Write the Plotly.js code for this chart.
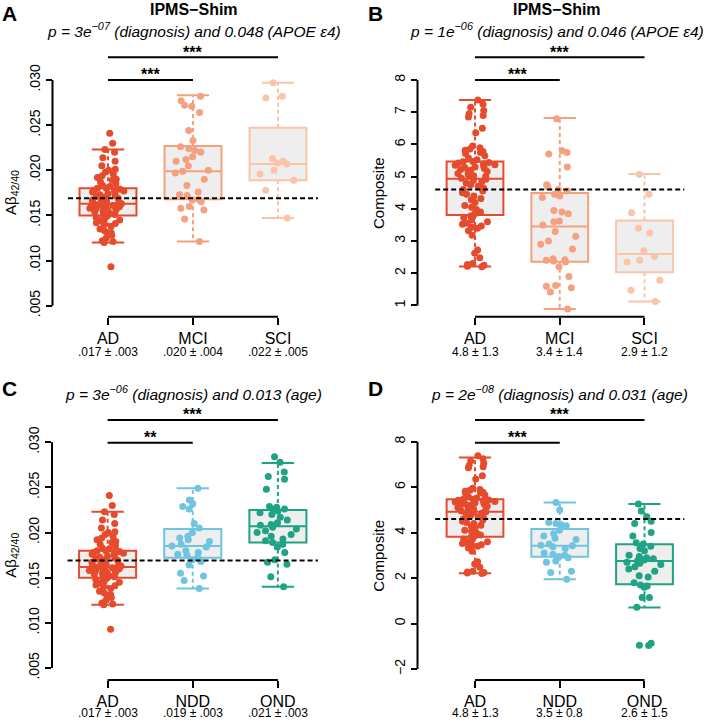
<!DOCTYPE html>
<html>
<head>
<meta charset="utf-8">
<script src="https://cdn.plot.ly/plotly-3.0.1.min.js"></script>
<style>body{margin:0;background:#fff}#plot{width:708px;height:720px}</style>
</head>
<body>
<div id="plot"></div>
<script>
// groups and colours
var groupsTop = ["AD", "MCI", "SCI"];
var groupsBottom = ["AD", "NDD", "OND"];
var colorsTop = ["#E64B2D", "#F5A07F", "#FAC4A8"];
var colorsBottom = ["#E64B2D", "#6FC4E0", "#1FA384"];

// Abeta 42/40 values per group
var abAD = [.0093, .0120, .0121, .0122, .0125, .0128, .0130, .0131, .0133, .0135, .0138, .0140, .0141, .0142, .0144, .0145, .0146, .0148, .0149,
  .0150, .0151, .0152, .0153, .0154, .0155, .0155, .0156, .0157, .0158, .0158, .0159, .0160, .0160, .0161, .0161, .0162, .0162, .0163, .0163,
  .0164, .0164, .0165, .0166, .0167, .0168, .0169, .0170, .0171, .0172, .0173, .0174, .0175, .0176, .0177, .0178, .0178, .0179, .0180, .0180,
  .0182, .0183, .0185, .0187, .0189, .0190, .0192, .0194, .0196, .0198, .0200, .0201, .0205, .0210, .0214, .0220, .0223, .0230, .0241];
var abMCI = [.0282, .0277, .0272, .0271, .0264, .0244, .0233, .0226, .0224, .0222, .0220, .0215, .0212, .0210, .0205, .0200, .0199, .0197,
  .0190, .0183, .0176, .0173, .0172, .0168, .0167, .0165, .0160, .0158, .0156, .0146, .0121];
var abSCI = [.0297, .0282, .0280, .0213, .0210, .0208, .0207, .0200, .0196, .0189, .0178, .0147];
var abNDD = [.0249, .0236, .0232, .0229, .0226, .0210, .0205, .0200, .0196, .0194, .0192, .0190, .0187, .0185, .0184, .0180, .0178,
  .0176, .0175, .0173, .0170, .0168, .0164, .0155, .0152, .0147, .0138];
var abOND = [.0284, .0278, .0267, .0262, .0259, .0248, .0229, .0228, .0226, .0225, .0224, .0222, .0220, .0217, .0214, .0211, .0209, .0208,
  .0206, .0204, .0202, .0200, .0198, .0196, .0193, .0191, .0189, .0187, .0184, .0178, .0170, .0167, .0165, .0151, .0140];

// composite values per group
var compAD = [2.20, 2.22, 2.25, 2.27, 2.30, 2.48, 2.62, 2.72, 3.18, 3.32, 3.40, 3.43, 3.47, 3.52, 3.55, 3.60, 3.65, 3.72, 3.78,
  3.85, 3.90, 3.98, 4.05, 4.10, 4.20, 4.28, 4.32, 4.40, 4.45, 4.50, 4.55, 4.60, 4.65, 4.70, 4.75, 4.80, 4.85, 4.88, 4.92,
  4.95, 5.00, 5.03, 5.06, 5.10, 5.13, 5.16, 5.20, 5.22, 5.25, 5.28, 5.30, 5.32, 5.35, 5.37, 5.40, 5.42, 5.44, 5.46, 5.47,
  5.52, 5.58, 5.65, 5.72, 5.75, 5.78, 5.82, 5.86, 5.90, 5.95, 6.36, 6.50, 6.85, 6.90, 6.95, 7.05, 7.15, 7.25, 7.38];
var compMCI = [6.80, 5.80, 5.75, 5.70, 5.30, 4.75, 4.68, 4.60, 4.55, 4.45, 4.40, 4.35, 3.95, 3.90, 3.85, 3.62, 3.60, 3.50, 3.30, 3.15,
  3.00, 2.90, 2.75, 2.45, 2.42, 2.40, 2.38, 2.35, 2.20, 1.90, 1.62, 1.60, 1.55, 1.42, 0.89];
var compSCI = [5.07, 4.45, 3.88, 3.40, 3.25, 2.70, 2.52, 2.40, 2.35, 1.78, 1.47, 1.12];
var compNDD = [5.33, 5.00, 4.45, 4.40, 4.35, 4.30, 4.10, 3.95, 3.85, 3.75, 3.70, 3.50, 3.45, 3.42, 3.38, 3.30, 3.10, 3.05, 3.00,
  2.95, 2.90, 2.75, 2.70, 2.30, 2.25, 1.95];
var compOND = [5.26, 4.95, 4.70, 4.50, 4.40, 4.00, 3.85, 3.55, 3.50, 3.40, 3.30, 3.20, 3.00, 2.95, 2.90, 2.85, 2.80, 2.75, 2.70,
  2.65, 2.60, 2.50, 2.40, 2.30, 2.10, 2.05, 1.80, 1.70, 1.65, 1.60, 1.15, 1.15, 0.72, -0.87, -0.95, -0.97];

// box statistics
var aQ1 = [.0150, .0168, .0189], aMed = [.0163, .0199, .0207], aQ3 = [.0180, .0227, .0247], aLo = [.0120, .0121, .0147], aHi = [.0223, .0283, .0297];
var bQ1 = [3.81, 2.36, 2.03], bMed = [4.93, 3.45, 2.60], bQ3 = [5.47, 4.49, 3.64], bLo = [2.21, 0.89, 1.12], bHi = [7.38, 6.82, 5.08];
var cQ1 = [.0150, .0172, .0189], cMed = [.0162, .0185, .0207], cQ3 = [.0180, .0204, .0225], cLo = [.0120, .0138, .0140], cHi = [.0223, .0249, .0277];
var dQ1 = [3.82, 2.94, 1.73], dMed = [4.92, 3.42, 2.75], dQ3 = [5.47, 4.16, 3.49], dLo = [2.21, 1.95, 0.71], dHi = [7.31, 5.33, 5.26];

// thresholds (dashed lines)
var thrAbeta = 0.0169, thrComp = 4.6;

// mean +- sd under each group
var meanA = [".017 ± .003", ".020 ± .004", ".022 ± .005"];
var meanB = ["4.8 ± 1.3", "3.4 ± 1.4", "2.9 ± 1.2"];
var meanC = [".017 ± .003", ".019 ± .003", ".021 ± .003"];
var meanD = ["4.8 ± 1.3", "3.5 ± 0.8", "2.6 ± 1.5"];

// y tick labels
var abTicks = [.005, .010, .015, .020, .025, .030];
var abTickText = [".005", ".010", ".015", ".020", ".025", ".030"];
var compTicksB = [1, 2, 3, 4, 5, 6, 7, 8];
var compTicksD = [-2, 0, 2, 4, 6, 8];
var compTickTextD = ["\u22122", "0", "2", "4", "6", "8"];

var W = 708, H = 720;
function px(x) { return x / W; }
function py(y) { return 1 - y / H; }

var FONT = "Liberation Sans, Arial, Helvetica, sans-serif";

var panels = [
  {letter: "A", xa: "x", ya: "y", xd: [52.5, 330], yd: [30, 316.7], xr: [0.347, 3.612], yr: [0.003781, 0.035538],
   groups: groupsTop, colors: colorsTop, pts: [abAD, abMCI, abSCI], q1: aQ1, med: aMed, q3: aQ3, lo: aLo, hi: aHi,
   thr: thrAbeta, yt: abTicks, ytt: abTickText, ytitle: "A\u03b2<sub>42/40</sub>", means: meanA, stars: ["***", "***"],
   head: "IPMS\u2212Shim", ptext: "<i>p = 3e<sup>\u221207</sup> (diagnosis) and 0.048 (APOE \u03b54)</i>", row: 0, tx: 193.5, lx: 0, ax: 12},
  {letter: "B", xa: "x2", ya: "y2", xd: [417.5, 700], yd: [30, 316.7], xr: [0.3215, 3.655], yr: [0.651, 9.552],
   groups: groupsTop, colors: colorsTop, pts: [compAD, compMCI, compSCI], q1: bQ1, med: bMed, q3: bQ3, lo: bLo, hi: bHi,
   thr: thrComp, yt: compTicksB, ytt: compTicksB.map(String), ytitle: "Composite", means: meanB, stars: ["***", "***"],
   head: "IPMS\u2212Shim", ptext: "<i>p = 1e<sup>\u221206</sup> (diagnosis) and 0.046 (APOE \u03b54)</i>", row: 0, tx: 557, lx: 366, ax: 379},
  {letter: "C", xa: "x3", ya: "y3", xd: [52, 330], yd: [400, 680], xr: [0.347, 3.612], yr: [0.003671, 0.034685],
   groups: groupsBottom, colors: colorsBottom, pts: [abAD, abNDD, abOND], q1: cQ1, med: cMed, q3: cQ3, lo: cLo, hi: cHi,
   thr: thrAbeta, yt: abTicks, ytt: abTickText, ytitle: "A\u03b2<sub>42/40</sub>", means: meanC, stars: ["**", "***"],
   head: null, ptext: "<i>p = 3e<sup>\u221206</sup> (diagnosis) and 0.013 (age)</i>", row: 1, tx: 193, lx: 0, ax: 12},
  {letter: "D", xa: "x4", ya: "y4", xd: [417.5, 700], yd: [400, 680], xr: [0.3215, 3.655], yr: [-2.484, 9.835],
   groups: groupsBottom, colors: colorsBottom, pts: [compAD, compNDD, compOND], q1: dQ1, med: dMed, q3: dQ3, lo: dLo, hi: dHi,
   thr: thrComp, yt: compTicksD, ytt: compTickTextD, ytitle: "Composite", means: meanD, stars: ["***", "***"],
   head: null, ptext: "<i>p = 2e<sup>\u221208</sup> (diagnosis) and 0.031 (age)</i>", row: 1, tx: 559, lx: 366, ax: 379}
];

var data = [];
var layout = {
  width: W, height: H,
  margin: {l: 0, r: 0, t: 0, b: 0},
  paper_bgcolor: "#ffffff", plot_bgcolor: "rgba(0,0,0,0)",
  showlegend: false, boxmode: "overlay",
  font: {family: FONT, color: "#000"},
  shapes: [], annotations: []
};

panels.forEach(function (p) {
  var dy = p.row === 0 ? 0 : 362.7;
  var xKey = p.xa === "x" ? "xaxis" : "xaxis" + p.xa.slice(1);
  var yKey = p.ya === "y" ? "yaxis" : "yaxis" + p.ya.slice(1);

  layout[xKey] = {
    domain: [px(p.xd[0]), px(p.xd[1])], range: p.xr, type: "linear", anchor: p.ya,
    tickvals: [1, 2, 3], ticktext: p.groups, ticks: "outside", ticklen: 7, tickwidth: 2, tickcolor: "#000",
    showline: false, showgrid: false, zeroline: false, tickfont: {size: 16, family: FONT}
  };
  layout[yKey] = {
    domain: [py(p.yd[1]), py(p.yd[0])], range: p.yr, type: "linear", anchor: p.xa,
    tickvals: p.yt, ticktext: p.ytt, tickangle: -90, ticks: "outside", ticklen: 6, tickwidth: 2, tickcolor: "#000",
    showline: false, showgrid: false, zeroline: false, tickfont: {size: 14, family: FONT}
  };

  // axis lines (only across tick range)
  layout.shapes.push({type: "line", xref: p.xa + " domain", yref: p.ya, x0: 0, x1: 0,
    y0: p.yt[0], y1: p.yt[p.yt.length - 1], line: {color: "#000", width: 2}});
  layout.shapes.push({type: "line", xref: p.xa, yref: p.ya + " domain", x0: 1, x1: 3, y0: 0, y1: 0,
    line: {color: "#000", width: 2}});

  for (var i = 0; i < 3; i++) {
    var xc = i + 1, c = p.colors[i];
    // box
    data.push({
      type: "box", xaxis: p.xa, yaxis: p.ya, x: [xc],
      q1: [p.q1[i]], median: [p.med[i]], q3: [p.q3[i]], lowerfence: [p.q1[i]], upperfence: [p.q3[i]],
      width: 0.67, whiskerwidth: 0, fillcolor: "#EEEEEE", line: {color: c, width: 2},
      boxpoints: false, hoverinfo: "skip"
    });
    // dashed whiskers and caps
    layout.shapes.push({type: "line", layer: "below", xref: p.xa, yref: p.ya, x0: xc, x1: xc, y0: p.q3[i], y1: p.hi[i],
      line: {color: c, width: 2, dash: "4px,3px"}});
    layout.shapes.push({type: "line", layer: "below", xref: p.xa, yref: p.ya, x0: xc, x1: xc, y0: p.q1[i], y1: p.lo[i],
      line: {color: c, width: 2, dash: "4px,3px"}});
    layout.shapes.push({type: "line", layer: "below", xref: p.xa, yref: p.ya, x0: xc - 0.19, x1: xc + 0.19, y0: p.hi[i], y1: p.hi[i],
      line: {color: c, width: 2}});
    layout.shapes.push({type: "line", layer: "below", xref: p.xa, yref: p.ya, x0: xc - 0.19, x1: xc + 0.19, y0: p.lo[i], y1: p.lo[i],
      line: {color: c, width: 2}});
    // mean +- sd text
    layout.annotations.push({xref: p.xa, yref: "paper", x: xc, y: py(p.row === 0 ? 352 : 713), text: p.means[i], showarrow: false,
      xanchor: "center", yanchor: "middle", font: {size: 12, family: FONT}});
  }
  // jittered points
  for (var j = 0; j < 3; j++) {
    data.push({
      type: "box", xaxis: p.xa, yaxis: p.ya, x0: j + 1, y: p.pts[j],
      boxpoints: "all", jitter: 0.75, pointpos: 0, width: 0.67,
      line: {width: 0, color: "rgba(0,0,0,0)"}, fillcolor: "rgba(0,0,0,0)",
      marker: {color: p.colors[j], size: 7}, hoverinfo: "y"
    });
  }

  // threshold line
  layout.shapes.push({type: "line", layer: "above", xref: p.xa, yref: p.ya, x0: 0.53, x1: 3.47, y0: p.thr, y1: p.thr,
    line: {color: "#000", width: 2, dash: "5px,3px"}});

  // significance bars
  var bars = [[1, 2, 80], [1, 3, 57.3]];
  bars.forEach(function (b, k) {
    layout.shapes.push({type: "line", xref: p.xa, yref: "paper", x0: b[0], x1: b[1], y0: py(b[2] + dy), y1: py(b[2] + dy),
      line: {color: "#000", width: 2}});
    layout.annotations.push({xref: p.xa, yref: "paper", x: (b[0] + b[1]) / 2, y: py(b[2] + dy - 5), text: "<b>" + p.stars[k] + "</b>",
      showarrow: false, xanchor: "center", yanchor: "middle", font: {size: 16, family: FONT}});
  });

  // titles
  if (p.head) {
    layout.annotations.push({xref: "paper", yref: "paper", x: px(p.tx), y: py(9.5 + dy), text: "<b>" + p.head + "</b>",
      showarrow: false, xanchor: "center", yanchor: "middle", font: {size: 16, family: FONT}});
  }
  layout.annotations.push({xref: "paper", yref: "paper", x: px(p.tx), y: py(30 + dy), text: p.ptext,
    showarrow: false, xanchor: "center", yanchor: "middle", font: {size: 15.5, family: FONT}});
  // panel letter
  layout.annotations.push({xref: "paper", yref: "paper", x: px(p.lx), y: py(p.row === 0 ? 0 : 375),
    text: "<b>" + p.letter + "</b>", showarrow: false, xanchor: "left", yanchor: "top",
    font: {size: 21, family: FONT}});
  // y axis title
  layout.annotations.push({xref: "paper", yref: "paper", x: px(p.ax), y: py(193 + dy),
    text: p.ytitle, textangle: -90, showarrow: false, xanchor: "center", yanchor: "middle", font: {size: 15, family: FONT}});
});

Plotly.newPlot("plot", data, layout, {displayModeBar: false, staticPlot: true});
</script>
</body>
</html>
